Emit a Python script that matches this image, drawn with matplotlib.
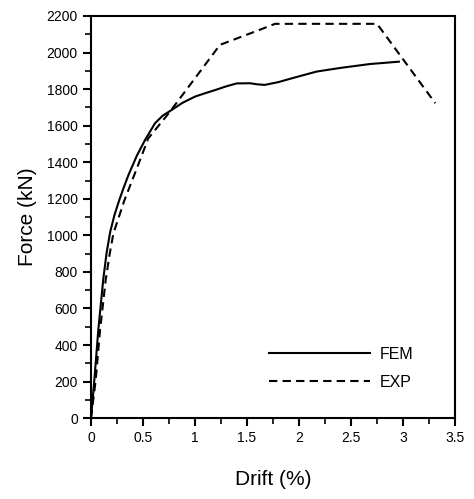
import matplotlib
matplotlib.use("Agg")
import matplotlib.pyplot as plt
from matplotlib.ticker import MultipleLocator

plt.rcParams["font.family"] = ["Liberation Sans", "DejaVu Sans"]

# FEM curve (drift %, force kN)
fem_drift = [0, 0.032, 0.07, 0.118, 0.15, 0.185, 0.225, 0.27, 0.32, 0.36, 0.44,
             0.52, 0.615, 0.69, 0.776, 0.88, 1.0, 1.1, 1.2, 1.3, 1.4, 1.53, 1.6,
             1.67, 1.8, 1.95, 2.17, 2.4, 2.68, 2.96]
fem_force = [0, 208, 482, 760, 905, 1020, 1110, 1190, 1270, 1330, 1435,
             1522, 1613, 1655, 1686, 1725, 1759, 1778, 1796, 1815, 1831, 1832, 1826,
             1823, 1838, 1862, 1896, 1916, 1937, 1950]

# EXP curve
exp_drift = [0, 0.045, 0.087, 0.141, 0.18, 0.215, 0.32, 0.45, 0.55, 0.76, 1.24,
             1.62, 1.77, 2.75, 3.31]
exp_force = [0, 208, 482, 755, 900, 1010, 1190, 1380, 1530, 1677, 2042,
             2124, 2157, 2157, 1723]

x_ticks = [0, 0.5, 1, 1.5, 2, 2.5, 3, 3.5]
x_labels = ["0", "0.5", "1", "1.5", "2", "2.5", "3", "3.5"]
y_ticks = list(range(0, 2201, 200))

fig = plt.figure(figsize=(4.74, 4.99), dpi=100)
ax = fig.add_axes([0.192, 0.162, 0.768, 0.806])

ax.plot(fem_drift, fem_force, color="black", lw=1.5, label="FEM")
ax.plot(exp_drift, exp_force, color="black", lw=1.5, ls=(0, (4, 2.5)), label="EXP")

ax.set_xlim(0, 3.5)
ax.set_ylim(0, 2200)
ax.set_xticks(x_ticks)
ax.set_xticklabels(x_labels)
ax.set_yticks(y_ticks)
ax.xaxis.set_minor_locator(MultipleLocator(0.25))
ax.yaxis.set_minor_locator(MultipleLocator(100))
ax.tick_params(which="major", direction="out", length=6, width=1.5, labelsize=10)
ax.tick_params(which="minor", direction="out", length=4, width=1.2)

for s in ax.spines.values():
    s.set_linewidth(1.5)

ax.set_xlabel("Drift (%)", fontsize=15, labelpad=18)
ax.set_ylabel("Force (kN)", fontsize=15, labelpad=7)

ax.legend(loc="lower right", bbox_to_anchor=(0.925, 0.035), frameon=False,
          handlelength=6.3, fontsize=11.5, labelspacing=0.8, handletextpad=0.6)

fig.savefig("out.png", dpi=100)
